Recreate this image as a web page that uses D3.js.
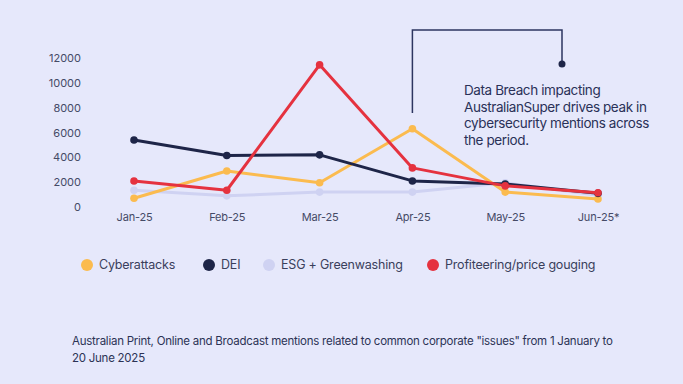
<!DOCTYPE html>
<html>
<head>
<meta charset="utf-8">
<script src="https://cdn.jsdelivr.net/npm/d3@7"></script>
<style>
  body { margin: 0; background: #e6e8fb; }
  svg { display: block; font-family: Inter, "Noto Sans", sans-serif; }
</style>
</head>
<body>
<div id="chart"></div>
<script>
var w = 683;
var h = 384;

var months = ["Jan-25", "Feb-25", "Mar-25", "Apr-25", "May-25", "Jun-25*"];
var yTicks = [0, 2000, 4000, 6000, 8000, 10000, 12000];

var esg = [1350, 900, 1200, 1200, 1950, 950];
var cyber = [700, 2900, 1950, 6300, 1200, 650];
var dei = [5400, 4150, 4200, 2100, 1850, 1100];
var profit = [2100, 1350, 11450, 3150, 1700, 1150];

var seriesNames = ["Cyberattacks", "DEI", "ESG + Greenwashing", "Profiteering/price gouging"];
var seriesColors = ["#fbbb4f", "#1e2548", "#cfd2f2", "#e5323f"];

// draw order: light one at the back, red on top
var drawOrder = [
  { values: esg, color: seriesColors[2] },
  { values: cyber, color: seriesColors[0] },
  { values: dei, color: seriesColors[1] },
  { values: profit, color: seriesColors[3] }
];

var svg = d3.select("#chart")
            .append("svg")
            .attr("width", w)
            .attr("height", h);

svg.append("rect").attr("width", w).attr("height", h).attr("fill", "#e6e8fb");

var x = d3.scalePoint()
          .domain(months)
          .range([134, 598]);

var y = d3.scaleLinear()
          .domain([0, 12000])
          .range([207, 58]);

// y axis labels
var yAxis = svg.append("g")
   .attr("transform", "translate(81,0)")
   .call(d3.axisLeft(y).tickValues(yTicks).tickSize(0).tickPadding(0).tickFormat(d3.format("d")));
yAxis.select(".domain").remove();
yAxis.selectAll("text")
     .attr("font-family", "Inter, sans-serif")
     .attr("font-size", "11px")
     .attr("fill", "#454a66");

// x axis labels
var xAxis = svg.append("g")
   .attr("transform", "translate(0,211)")
   .call(d3.axisBottom(x).tickSize(0).tickPadding(0));
xAxis.select(".domain").remove();
xAxis.selectAll("text")
     .attr("font-family", "Inter, sans-serif")
     .attr("font-size", "11px")
     .attr("letter-spacing", "-0.2px")
     .attr("fill", "#454a66")
     .attr("dy", "0.9em");

var line = d3.line()
             .x(function(d, i) { return x(months[i]); })
             .y(function(d) { return y(d); });

drawOrder.forEach(function(s) {
  svg.append("path")
     .datum(s.values)
     .attr("d", line)
     .attr("fill", "none")
     .attr("stroke", s.color)
     .attr("stroke-width", 3)
     .attr("stroke-linejoin", "round");

  svg.selectAll(null)
     .data(s.values)
     .enter()
     .append("circle")
     .attr("cx", function(d, i) { return x(months[i]); })
     .attr("cy", function(d) { return y(d); })
     .attr("r", 3.8)
     .attr("fill", s.color);
});

// annotation bracket
var ax = x("Apr-25");
svg.append("path")
   .attr("d", "M" + ax + ",113 V30 H562 V64")
   .attr("fill", "none")
   .attr("stroke", "#2d3560")
   .attr("stroke-width", 1.5);
svg.append("circle")
   .attr("cx", 562).attr("cy", 64).attr("r", 3.5)
   .attr("fill", "#1e2548");

var note = ["Data Breach impacting", "AustralianSuper drives peak in",
            "cybersecurity mentions across", "the period."];
svg.selectAll(".note")
   .data(note)
   .enter()
   .append("text")
   .attr("class", "note")
   .attr("x", 464)
   .attr("y", function(d, i) { return 95 + i * 16.7; })
   .attr("font-size", "13.5px")
   .attr("letter-spacing", "-0.4px")
   .attr("fill", "#2a3158")
   .text(function(d) { return d; });

// legend
var legendX = [87, 209, 269, 433];
var legend = svg.selectAll(".legend")
   .data(seriesNames)
   .enter()
   .append("g")
   .attr("class", "legend")
   .attr("transform", function(d, i) { return "translate(" + legendX[i] + ",265)"; });

legend.append("circle")
      .attr("r", 6)
      .attr("fill", function(d, i) { return seriesColors[i]; });

legend.append("text")
      .attr("x", 12)
      .attr("dy", "0.35em")
      .attr("font-size", "12.5px")
      .attr("letter-spacing", "-0.2px")
      .attr("fill", "#3a3f5c")
      .text(function(d) { return d; });

// caption
var caption = ["Australian Print, Online and Broadcast mentions related to common corporate \"issues\" from 1 January to",
               "20 June 2025"];
svg.selectAll(".caption")
   .data(caption)
   .enter()
   .append("text")
   .attr("class", "caption")
   .attr("x", 72)
   .attr("y", function(d, i) { return 345 + i * 17; })
   .attr("font-size", "11.5px")
   .attr("letter-spacing", "-0.25px")
   .attr("fill", "#2c3355")
   .text(function(d) { return d; });
</script>
</body>
</html>
